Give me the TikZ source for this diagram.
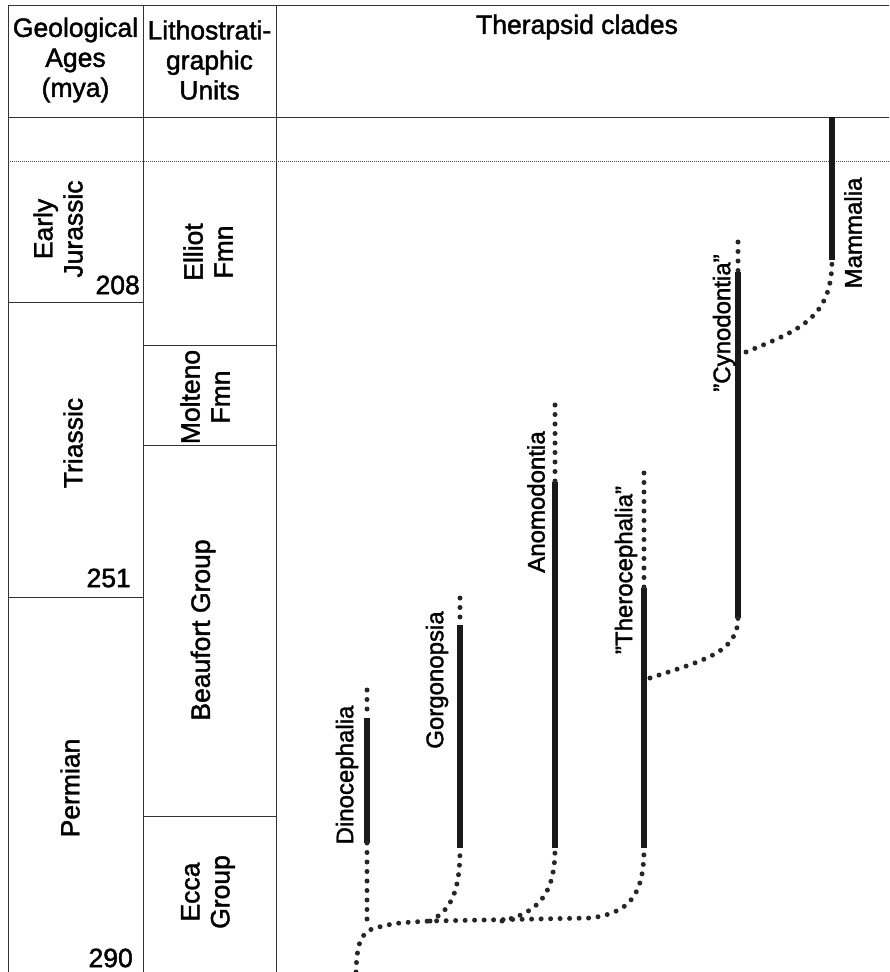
\documentclass[tikz,border=0pt]{standalone}
\usepackage{fontspec}
\setmainfont{Liberation Sans}[BoldFont={Liberation Sans},BoldFeatures={FakeBold=1.6}]
\begin{document}
\begin{tikzpicture}[x=1pt,y=-1pt,
  grid/.style={line width=1pt,draw=black!80},
  fine/.style={line width=0.8pt,draw=black!70,dash pattern=on 1pt off 1pt},
  bar/.style={line width=6pt,draw=black!90},
  dots/.style={line width=5pt,draw=black!85,line cap=round,dash pattern=on 0pt off 9.5pt},
  tab/.style={font=\fontsize{26.5}{30}\bfseries\selectfont,align=center,inner sep=0pt},
  rtab/.style={tab,rotate=90},
  clade/.style={font=\fontsize{24}{28}\bfseries\selectfont,rotate=90,inner sep=0pt}]
\useasboundingbox (0,0) rectangle (889,972);
% table
\draw[grid] (8,972) -- (8,5) -- (889,5);
\draw[grid] (143,5) -- (143,972);
\draw[grid] (276,5) -- (276,972);
\draw[grid] (8,117) -- (889,117);
\draw[fine] (8,161) -- (889,161);
\draw[grid] (8,302) -- (143,302);
\draw[grid] (8,597) -- (143,597);
\draw[grid] (143,345) -- (276,345);
\draw[grid] (143,445) -- (276,445);
\draw[grid] (143,816) -- (276,816);
% header texts
\node[tab] (hage) at (75.5,60) {Geological\\Ages\\(mya)};
\node[tab] (hlith) at (209.5,60) {Lithostrati-\\graphic\\Units};
\node[tab] (hclade) at (577,27) {Therapsid clades};
% ages
\node[rtab] (jur) at (58,229) {Early\\Jurassic};
\node[rtab] (tri) at (73,443) {Triassic};
\node[rtab] (perm) at (70,788) {Permian};
\node[tab,anchor=east] (n208) at (140,285) {208};
\node[tab,anchor=east] (n251) at (131,578) {251};
\node[tab,anchor=east] (n290) at (133,958) {290};
% units
\node[rtab] (ell) at (208,252) {Elliot\\Fmn};
\node[rtab] (mol) at (205,397) {Molteno\\Fmn};
\node[rtab] (beau) at (203,630) {Beaufort Group};
\node[rtab] (ecca) at (208,892) {Ecca\\Group};
% clade coordinates
\coordinate (dT) at (367,690); \coordinate (dS) at (367,718); \coordinate (dB) at (367,843); \coordinate (dJ) at (367,926);
\coordinate (gT) at (460,598); \coordinate (gS) at (460,625); \coordinate (gB) at (460,848);
\coordinate (aT) at (555,405); \coordinate (aS) at (555,482); \coordinate (aB) at (555,848);
\coordinate (tT) at (644,473); \coordinate (tS) at (644,588); \coordinate (tB) at (644,848);
\coordinate (cT) at (738,242); \coordinate (cS) at (738,272); \coordinate (cB) at (738,618);
\coordinate (mT) at (832,117); \coordinate (mB) at (832,260);
\coordinate (root) at (356,972);
\coordinate (gJ) at (430,921); \coordinate (aJ) at (502,921);
\coordinate (tC) at (650,678); \coordinate (cC) at (746,352);
% solid ranges
\draw[bar] (dS) -- (dB);
\draw[bar] (gS) -- (gB);
\draw[bar] (aS) -- (aB);
\draw[bar] (tS) -- (tB);
\draw[bar] (cS) -- (cB);
\draw[bar] (mT) -- (mB);
% dotted ghost ranges
\draw[dots] (dT) -- (dS);
\draw[dots] (gT) -- (gS);
\draw[dots] (aT) -- (aS);
\draw[dots] (tT) -- (tS);
\draw[dots] (cT) -- (cS);
% dotted phylogeny
\draw[dots] (dB) -- (dJ);
\draw[dots] (root) .. controls (357,945) and (360,932) .. (375,928) .. controls (395,923) .. (gJ) -- (590,918) .. controls (630,913) and (644,895) .. (tB);
\draw[dots] (gJ) .. controls (452,910) and (460,890) .. (gB);
\draw[dots] (aJ) .. controls (542,912) and (555,890) .. (aB);
\draw[dots] (tC) .. controls (705,660) and (738,652) .. (cB);
\draw[dots] (cC) .. controls (800,330) and (832,318) .. (mB);
% clade labels
\node[clade] (ldino) at (347,775) {Dinocephalia};
\node[clade] (lgorg) at (437,680) {Gorgonopsia};
\node[clade] (lanom) at (536,502) {Anomodontia};
\node[clade] (lther) at (626,570) {"Therocephalia"};
\node[clade] (lcyno) at (724,323) {"Cynodontia"};
\node[clade] (lmamm) at (853,233) {Mammalia};
\end{tikzpicture}
\end{document}
